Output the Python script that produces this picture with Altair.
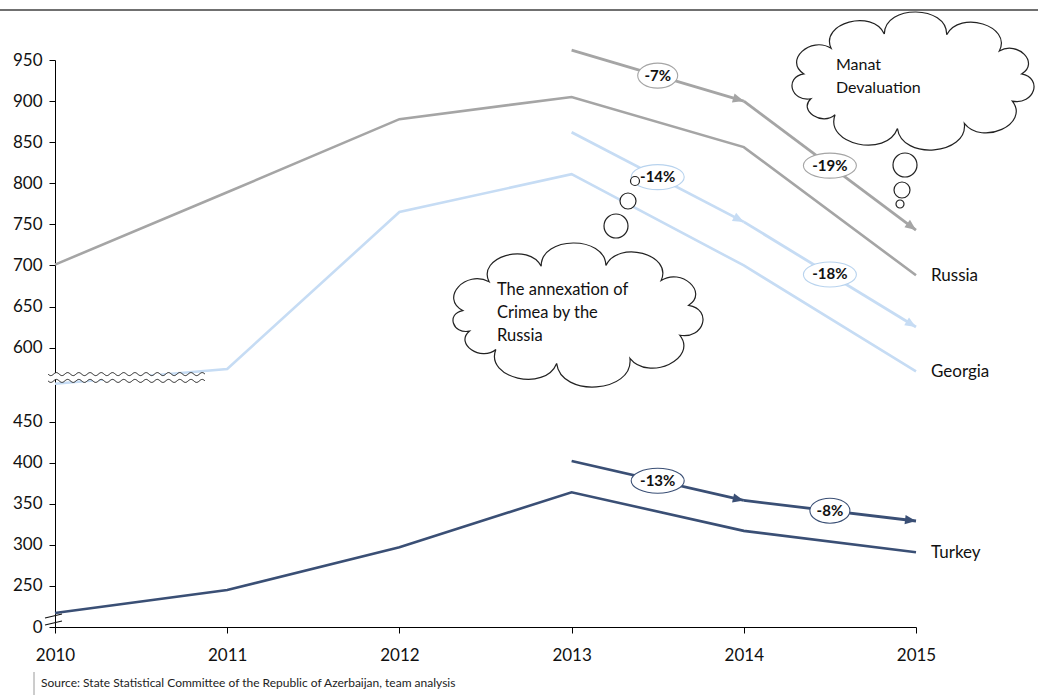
import altair as alt
import pandas as pd
import numpy as np

# ---------------- data ----------------
years = [2010, 2011, 2012, 2013, 2014, 2015]
russia = [701, 789, 878, 905, 844, 688]
georgia = [556, 574, 765, 811, 700, 571]
turkey = [217, 245, 297, 364, 317, 291]

arrow_years = [2013, 2014, 2015]
russia_arrow = [962, 900, 743]
georgia_arrow = [862, 753, 625]
turkey_arrow = [402, 354, 329]
russia_pct = ["-7%", "-19%"]
georgia_pct = ["-14%", "-18%"]
turkey_pct = ["-13%", "-8%"]

upper_ticks = [600, 650, 700, 750, 800, 850, 900, 950]
lower_ticks = [250, 300, 350, 400, 450]
series_names = ["Russia", "Georgia", "Turkey"]
source_text = "Source: State Statistical Committee of the Republic of Azerbaijan, team analysis"
cloud1_text = ["Manat", "Devaluation"]
cloud2_text = ["The annexation of", "Crimea by the", "Russia"]

# ---------------- styling / layout ----------------
W, H = 861, 567
BREAK_AT, SHIFT = 520, 60          # values below BREAK_AT are drawn in the lower panel
Y_DOM = [260, 950]
KX = W / 5.0
KY = H / (Y_DOM[1] - Y_DOM[0])
FONT = "Lato"
colors = {"Russia": "#a5a5a5", "Georgia": "#c6dcf4", "Turkey": "#3a4f75"}
arrow_colors = {"Russia": "#a0a0a0", "Georgia": "#b2cdea", "Turkey": "#3a4f75"}
edge_colors = {"Russia": "#a5a5a5", "Georgia": "#b8d3ee", "Turkey": "#3a4f75"}

plot_expr = f"datum.v < {BREAK_AT} ? datum.v + {SHIFT} : datum.v"

series_vals = {"Russia": russia, "Georgia": georgia, "Turkey": turkey}
lines_df = pd.DataFrame(
    [{"series": s, "year": y, "v": v} for s in series_names for y, v in zip(years, series_vals[s])]
)

arrow_vals = {"Russia": russia_arrow, "Georgia": georgia_arrow, "Turkey": turkey_arrow}
pct_vals = {"Russia": russia_pct, "Georgia": georgia_pct, "Turkey": turkey_pct}
seg_rows = []
for s in series_names:
    a = arrow_vals[s]
    for i in range(2):
        seg_rows.append({"series": s, "x0": arrow_years[i], "x1": arrow_years[i + 1],
                         "v0": a[i], "v1": a[i + 1], "label": pct_vals[s][i]})
seg_df = pd.DataFrame(seg_rows)

label_df = pd.DataFrame({"series": series_names, "year": [years[-1]] * 3,
                         "v": [russia[-1], georgia[-1], turkey[-1]]})

xscale = alt.Scale(domain=[2010, 2015], nice=False, zero=False)
yscale = alt.Scale(domain=Y_DOM, nice=False, zero=False)
cscale = alt.Scale(domain=series_names, range=[colors[s] for s in series_names])
ascale = alt.Scale(domain=series_names, range=[arrow_colors[s] for s in series_names])
escale = alt.Scale(domain=series_names, range=[edge_colors[s] for s in series_names])

tick_vals = [200 + SHIFT] + [t + SHIFT for t in lower_ticks] + upper_ticks
label_expr = (f"datum.value == {200 + SHIFT} ? '0' : (datum.value < {BREAK_AT} ? "
              f"format(datum.value - {SHIFT}, 'd') : format(datum.value, 'd'))")


# ---------------- shape paths ----------------
def fmt(v):
    return f"{v:.4f}"


def ellipse_path(ry):
    k = 0.5523
    return (f"M 1 0 C 1 {fmt(k*ry)} {fmt(k)} {fmt(ry)} 0 {fmt(ry)} "
            f"C {fmt(-k)} {fmt(ry)} -1 {fmt(k*ry)} -1 0 "
            f"C -1 {fmt(-k*ry)} {fmt(-k)} {fmt(-ry)} 0 {fmt(-ry)} "
            f"C {fmt(k)} {fmt(-ry)} 1 {fmt(-k*ry)} 1 0 Z")


def cloud_path(hw, hh, angles, kfac=0.62):
    rx, ry = 0.8, 0.8 * hh / hw
    t = np.radians(angles)
    pts = np.stack([rx * np.cos(t), ry * np.sin(t)], axis=1)
    segs = []
    n = len(pts)
    for i in range(n):
        p1, p2 = pts[i], pts[(i + 1) % n]
        c = p2 - p1
        L = np.hypot(*c)
        d = c / L
        nrm = np.array([d[1], -d[0]])
        segs.append((p1, p1 + nrm * kfac * L, p2 + nrm * kfac * L, p2))
    ss = np.linspace(0, 1, 30)
    samp = []
    for p0, c1, c2, p3 in segs:
        for u in ss:
            samp.append((1-u)**3*p0 + 3*(1-u)**2*u*c1 + 3*(1-u)*u**2*c2 + u**3*p3)
    samp = np.array(samp)
    mn, mx = samp.min(axis=0), samp.max(axis=0)
    ctr = (mn + mx) / 2
    sx = 1.0 / ((mx[0] - mn[0]) / 2)
    sy = (hh / hw) / ((mx[1] - mn[1]) / 2)

    def tr(p):
        return ((p[0] - ctr[0]) * sx, (p[1] - ctr[1]) * sy)

    x0, y0 = tr(segs[0][0])
    out = [f"M {fmt(x0)} {fmt(y0)}"]
    for p0, c1, c2, p3 in segs:
        a, b, c = tr(c1), tr(c2), tr(p3)
        out.append(f"C {fmt(a[0])} {fmt(a[1])} {fmt(b[0])} {fmt(b[1])} {fmt(c[0])} {fmt(c[1])}")
    out.append("Z")
    return " ".join(out)


def wave(y_off, amp, periods, n=400):
    xs = np.linspace(-1, 1, n)
    ys = y_off + amp * np.sin(xs * np.pi * periods)
    return xs, ys


zz_half = 78.5
zx, zt = wave(-3.4 / zz_half, 1.5 / zz_half, 14)
_, zb = wave(3.4 / zz_half, 1.5 / zz_half, 14)
zig_stroke = ("M " + " L ".join(f"{fmt(a)} {fmt(b)}" for a, b in zip(zx, zt)) +
              " M " + " L ".join(f"{fmt(a)} {fmt(b)}" for a, b in zip(zx, zb)))
zig_band = ("M " + " L ".join(f"{fmt(a)} {fmt(b)}" for a, b in zip(zx, zt)) + " L " +
            " L ".join(f"{fmt(a)} {fmt(b)}" for a, b in zip(zx[::-1], zb[::-1])) + " Z")
break_marks = "M -1 -0.18 L 1 -0.65 M -1 0.65 L 1 0.18"
arrow_head = "M 0 0 L -1 -0.42 L -1 0.42 Z"

cloud1 = dict(hw=121, hh=69, cx=858, cy=21,
              angles=[-172, -138, -105, -72, -38, -8, 25, 62, 98, 135, 158])
cloud2 = dict(hw=125, hh=72, cx=523, cy=255,
              angles=[-176, -140, -108, -75, -42, -10, 25, 62, 100, 135, 160])

one = pd.DataFrame({"k": [0]})

# ---------------- layers ----------------
axis_x = alt.Axis(values=years, format="d", tickSize=6, labelPadding=14, labelFontSize=17,
                  labelFont=FONT, labelFontWeight="normal", labelColor="#111",
                  domainColor="#000", tickColor="#000",
                  labelFlush=False, labelOverlap=False, grid=False, title=None)
axis_y = alt.Axis(values=tick_vals, labelExpr=label_expr, tickSize=6, labelPadding=7,
                  labelFontSize=17, labelFont=FONT, labelFontWeight="normal", labelColor="#111",
                  domainColor="#000", tickColor="#000", labelFlush=False, labelOverlap=False,
                  grid=False, title=None)


def X(field):
    return alt.X(field, scale=xscale, title=None)


def Y(field):
    return alt.Y(field, scale=yscale, title=None)


band = alt.Chart(one).mark_point(shape=zig_band, size=(2 * zz_half) ** 2, filled=True,
                                 fill="white", strokeWidth=0, opacity=1).encode(
    x=alt.value(71.5), y=alt.value(317.5))

lines = alt.Chart(lines_df).transform_calculate(p=plot_expr).mark_line(strokeWidth=2.6).encode(
    x=alt.X("year:Q", scale=xscale, axis=axis_x),
    y=alt.Y("p:Q", scale=yscale, axis=axis_y),
    color=alt.Color("series:N", scale=cscale, legend=None),
    detail="series:N",
)

seg_base = alt.Chart(seg_df).transform_calculate(
    p0=f"datum.v0 < {BREAK_AT} ? datum.v0 + {SHIFT} : datum.v0",
    p1=f"datum.v1 < {BREAK_AT} ? datum.v1 + {SHIFT} : datum.v1",
).transform_calculate(
    xm="(datum.x0 + datum.x1) / 2",
    pm="(datum.p0 + datum.p1) / 2",
    ang=f"atan2((datum.p0 - datum.p1) * {KY}, {KX}) * 180 / PI",
    nchar="length(datum.label)",
)

arrows = seg_base.mark_rule(strokeWidth=2.8, strokeCap="butt").encode(
    x=X("x0:Q"), x2="x1:Q", y=Y("p0:Q"), y2="p1:Q",
    color=alt.Color("series:N", scale=ascale, legend=None),
)
heads = seg_base.mark_point(shape=arrow_head, size=22 ** 2, filled=True, opacity=1,
                            strokeWidth=0).encode(
    x=X("x1:Q"), y=Y("p1:Q"),
    angle=alt.Angle("ang:Q", scale=None),
    color=alt.Color("series:N", scale=ascale, legend=None),
)
ell_short = seg_base.transform_filter("datum.nchar <= 3").mark_point(
    shape=ellipse_path(25 / 40), size=40 ** 2, filled=True, fill="white", opacity=1,
    strokeWidth=1.1).encode(
    x=X("xm:Q"), y=Y("pm:Q"),
    stroke=alt.Stroke("series:N", scale=escale, legend=None),
)
ell_long = seg_base.transform_filter("datum.nchar > 3").mark_point(
    shape=ellipse_path(25 / 53), size=53 ** 2, filled=True, fill="white", opacity=1,
    strokeWidth=1.1).encode(
    x=X("xm:Q"), y=Y("pm:Q"),
    stroke=alt.Stroke("series:N", scale=escale, legend=None),
)
pct_text = seg_base.mark_text(font=FONT, fontSize=15, fontWeight="bold", color="#111",
                              align="center", baseline="middle").encode(
    x=X("xm:Q"), y=Y("pm:Q"), text="label:N",
)

series_labels = alt.Chart(label_df).transform_calculate(p=plot_expr).mark_text(
    font=FONT, fontSize=17, color="#111", align="left", baseline="middle", dx=15, dy=1).encode(
    x=X("year:Q"), y=Y("p:Q"), text="series:N",
)

zig = alt.Chart(one).mark_point(shape=zig_stroke, size=(2 * zz_half) ** 2, filled=False,
                                stroke="#111", strokeWidth=1, opacity=1).encode(
    x=alt.value(71.5), y=alt.value(317.5))
brk = alt.Chart(one).mark_point(shape=break_marks, size=17 ** 2, filled=False,
                                stroke="#111", strokeWidth=1.1, opacity=1).encode(
    x=alt.value(-1.5), y=alt.value(559.5))


def cloud_layer(c):
    return alt.Chart(one).mark_point(
        shape=cloud_path(c["hw"], c["hh"], c["angles"]), size=(2 * c["hw"]) ** 2,
        filled=True, fill="white", stroke="#222", strokeWidth=1.2, opacity=1).encode(
        x=alt.value(c["cx"]), y=alt.value(c["cy"]))


def bubble(x, y, r):
    return alt.Chart(one).mark_point(shape="circle", size=(2 * r) ** 2, filled=True,
                                     fill="white", stroke="#222", strokeWidth=1.2,
                                     opacity=1).encode(x=alt.value(x), y=alt.value(y))


bubbles = [bubble(850, 105, 12), bubble(847, 130, 8), bubble(845, 144, 4),
           bubble(561, 166, 12), bubble(573, 141, 8), bubble(580, 121, 4.5)]

c1_text = alt.Chart(one).mark_text(text=cloud1_text, font=FONT, fontSize=16, color="#111",
                                   align="left", baseline="middle", lineHeight=23).encode(
    x=alt.value(781), y=alt.value(5))
c2_text = alt.Chart(one).mark_text(text=cloud2_text, font=FONT, fontSize=16.5, color="#111",
                                   align="left", baseline="middle", lineHeight=23).encode(
    x=alt.value(442), y=alt.value(230))

top_rule = alt.Chart(one).mark_rule(color="#707070", strokeWidth=2).encode(
    x=alt.value(-55), x2=alt.value(983), y=alt.value(-50))
src_rule = alt.Chart(one).mark_rule(color="#9a9a9a", strokeWidth=1).encode(
    x=alt.value(-21), y=alt.value(612), y2=alt.value(636))
src = alt.Chart(one).mark_text(text=source_text, font=FONT, fontSize=12, color="#222",
                               align="left", baseline="middle").encode(
    x=alt.value(-14), y=alt.value(623))

chart = alt.layer(
    lines, band, arrows, heads, ell_short, ell_long, pct_text, series_labels, zig, brk,
    cloud_layer(cloud1), cloud_layer(cloud2), *bubbles, c1_text, c2_text,
    top_rule, src_rule, src,
).properties(
    width=W, height=H,
    padding={"left": 55, "top": 60, "right": 122, "bottom": 68},
    autosize=alt.AutoSizeParams(type="none"),
).configure_view(stroke=None)

chart.save("out.html", embed_options={"renderer": "svg", "actions": False})
